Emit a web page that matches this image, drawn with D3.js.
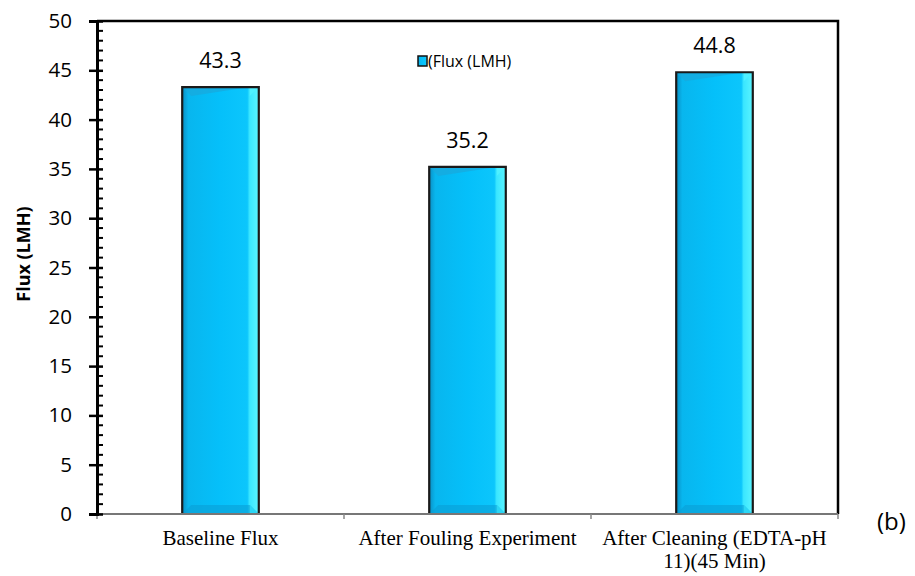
<!DOCTYPE html>
<html><head><meta charset="utf-8">
<script src="https://cdn.jsdelivr.net/npm/d3@7"></script>
<style>body{margin:0;background:#fff}svg{display:block}</style>
</head><body><svg id="c" width="915" height="576"></svg>
<script>
const categories = ["Baseline Flux", "After Fouling Experiment", "After Cleaning (EDTA-pH 11)(45 Min)"];
const categoryLines = [["Baseline Flux"], ["After Fouling Experiment"], ["After Cleaning (EDTA-pH", "11)(45 Min)"]];
const fluxValues = [43.3, 35.2, 44.8];
const yTicks = [0, 5, 10, 15, 20, 25, 30, 35, 40, 45, 50];
const seriesName = "(Flux (LMH)";
const yTitle = "Flux (LMH)";

const svg = d3.select("#c");
const m = {l: 97, r: 838, t: 21, b: 514};
const x = d3.scaleBand().domain(categories).range([m.l, m.r]).paddingInner(0.69).paddingOuter(0.345);
const y = d3.scaleLinear().domain([0, 50]).range([m.b, m.t]);

const defs = svg.append("defs");
const g1 = defs.append("linearGradient").attr("id", "face").attr("x1", 0).attr("x2", 1).attr("y1", 0).attr("y2", 0);
[[0, "#0a8fc4"], [0.08, "#08b6ee"], [0.5, "#05c0fa"], [0.85, "#0cc6fc"], [0.88, "#3ae6ff"], [1, "#5af4ff"]].forEach(d => g1.append("stop").attr("offset", d[0]).attr("stop-color", d[1]));

// frame
svg.append("path").attr("d", `M${m.l},${m.t}H${m.r}V${m.b}`).attr("fill", "none").attr("stroke", "#000").attr("stroke-width", 2.5);

// bars
const bw = x.bandwidth();
const bars = svg.append("g").selectAll("g").data(categories).join("g");
bars.append("rect")
  .attr("x", d => x(d)).attr("y", (d, i) => y(fluxValues[i]))
  .attr("width", bw).attr("height", (d, i) => y(0) - y(fluxValues[i]))
  .attr("fill", "url(#face)");
const bev = 9;
bars.append("path").attr("d", (d, i) => {
  const x0 = x(d), x1 = x0 + bw, yt = y(fluxValues[i]);
  return `M${x0},${yt}H${x1 - bev}L${x0 + bev},${yt + bev}Z`;
}).attr("fill", "#1aa8dc").attr("opacity", 0.7);
bars.append("path").attr("d", (d, i) => {
  const x0 = x(d), x1 = x0 + bw, yt = y(fluxValues[i]);
  return `M${x1 - bev},${yt}H${x1}L${x1 - bev},${yt + bev}Z`;
}).attr("fill", "#4ff0ff");
bars.append("path").attr("d", (d, i) => {
  const x0 = x(d), x1 = x0 + bw, yb = y(0);
  return `M${x0 + bev},${yb - bev}H${x1 - bev}L${x1},${yb}H${x0}Z`;
}).attr("fill", "#0a9fd6").attr("opacity", 0.6);
bars.append("path").attr("d", (d, i) => {
  const x0 = x(d), x1 = x0 + bw, yb = y(0);
  return `M${x1 - bev},${yb - bev}L${x1},${yb}H${x1 - bev}Z`;
}).attr("fill", "#2bd6f5");
bars.append("path")
  .attr("d", (d, i) => `M${x(d)},${y(0)}V${y(fluxValues[i])}H${x(d) + bw}V${y(0)}`)
  .attr("fill", "none").attr("stroke", "#1a1a1a").attr("stroke-width", 2.2);

// value labels
svg.append("g").selectAll("text").data(categories).join("text")
  .attr("x", d => x(d) + bw / 2).attr("y", (d, i) => y(fluxValues[i]) - 19)
  .attr("text-anchor", "middle").attr("font-family", "'Open Sans', sans-serif").attr("font-size", 21.5)
  .text((d, i) => fluxValues[i].toFixed(1));

// x axis
svg.append("line").attr("x1", m.l).attr("x2", m.r).attr("y1", m.b).attr("y2", m.b).attr("stroke", "#777").attr("stroke-width", 2);
const xb = [m.l].concat(categories.map(d => x(d) + bw / 2 + x.step() / 2));
svg.append("g").selectAll("line").data(xb).join("line")
  .attr("x1", d => d).attr("x2", d => d).attr("y1", m.b).attr("y2", m.b + 5).attr("stroke", "#888").attr("stroke-width", 1.5);
const xl = svg.append("g").selectAll("text").data(categories).join("text")
  .attr("x", d => x(d) + bw / 2).attr("y", 545)
  .attr("text-anchor", "middle").attr("font-family", "'Liberation Serif', 'Times New Roman', serif").attr("font-size", 21);
xl.each(function(d, i) {
  d3.select(this).selectAll("tspan").data(categoryLines[i]).join("tspan")
    .attr("x", x(d) + bw / 2).attr("dy", (t, j) => j ? 23 : 0).text(t => t);
});

// y axis
const yAxis = d3.axisLeft(y).tickValues(yTicks).tickSize(8).tickPadding(17);
const ya = svg.append("g").attr("transform", `translate(${m.l},0)`).call(yAxis);
ya.select(".domain").attr("stroke-width", 3);
ya.selectAll(".tick line").attr("x2", -8).attr("x1", 6).attr("stroke-width", 2.5);
ya.selectAll(".tick text").attr("x", -25).attr("font-family", "'Open Sans', sans-serif").attr("font-size", 20.5).attr("fill", "#000");
const minor = d3.range(0, 51, 1).filter(v => v % 5 !== 0);
ya.append("g").selectAll("line").data(minor).join("line")
  .attr("x1", 0).attr("x2", 6).attr("y1", d => y(d)).attr("y2", d => y(d)).attr("stroke", "#000").attr("stroke-width", 2);

svg.append("text").attr("transform", `translate(30,254) rotate(-90)`)
  .attr("text-anchor", "middle").attr("font-family", "'Open Sans', sans-serif").attr("font-weight", "bold").attr("font-size", 18)
  .text(yTitle);

// legend
svg.append("rect").attr("x", 418).attr("y", 56).attr("width", 9).attr("height", 10).attr("fill", "url(#face)").attr("stroke", "#111").attr("stroke-width", 1.5);
svg.append("text").attr("x", 428).attr("y", 67).attr("font-family", "'Open Sans', sans-serif").attr("font-size", 16).text(seriesName);

svg.append("text").attr("x", 877).attr("y", 530).attr("font-family", "'Open Sans', sans-serif").attr("font-size", 24).text("(b)");
</script></body></html>
